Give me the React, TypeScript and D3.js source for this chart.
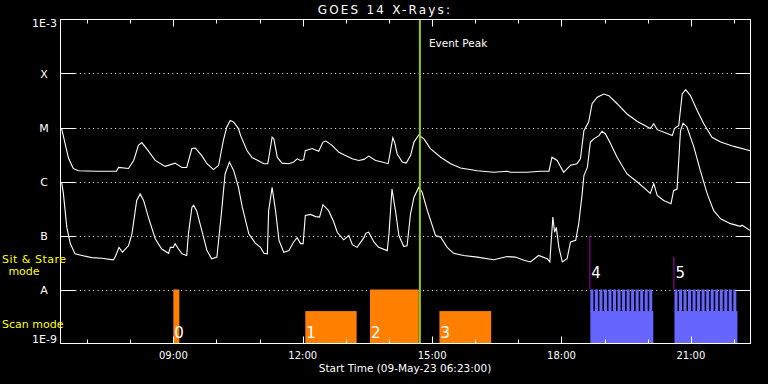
import React, { useEffect } from 'react';
import * as d3 from 'd3';

const W = 768;
const H = 384;

const startHour = 6 + 23 / 60;
const endHour = startHour + 16;
const hourTicks = [7, 8, 9, 10, 11, 12, 13, 14, 15, 16, 17, 18, 19, 20, 21, 22];
const majorTicks = [9, 12, 15, 18, 21];
const majorLabels = ['09:00', '12:00', '15:00', '18:00', '21:00'];
const levelValues = [-4, -5, -6, -7, -8];
const levelLabels = ['X', 'M', 'C', 'B', 'A'];
const eventPeak = 14.717;

// long channel (1-8 A): [clock hour, log10 flux]
const longChannel: [number, number][] = [
  [6.41, -5.02], [6.49, -5.3], [6.57, -5.57], [6.68, -5.76], [6.8, -5.8], [7.22, -5.81], [7.68, -5.81],
  [7.73, -5.74], [7.96, -5.76], [8.08, -5.61], [8.19, -5.33], [8.27, -5.28], [8.38, -5.39], [8.58, -5.61],
  [8.81, -5.72], [9.04, -5.66], [9.2, -5.74], [9.31, -5.74], [9.43, -5.39], [9.51, -5.38], [9.66, -5.52],
  [9.78, -5.67], [9.93, -5.78], [10.05, -5.7], [10.16, -5.24], [10.24, -4.99], [10.32, -4.87], [10.4, -4.9],
  [10.51, -5.02], [10.56, -5.15], [10.71, -5.43], [10.83, -5.56], [10.94, -5.6], [11.1, -5.67], [11.19, -5.67],
  [11.24, -5.43], [11.29, -5.18], [11.33, -5.21], [11.41, -5.55], [11.52, -5.66], [11.68, -5.67], [11.79, -5.64],
  [11.87, -5.58], [11.95, -5.61], [12.02, -5.6], [12.06, -5.43], [12.22, -5.39], [12.37, -5.44], [12.47, -5.27],
  [12.54, -5.25], [12.68, -5.33], [12.84, -5.46], [12.99, -5.52], [13.15, -5.58], [13.3, -5.61], [13.42, -5.59],
  [13.53, -5.53], [13.69, -5.61], [13.84, -5.64], [13.98, -5.67], [14.01, -5.55], [14.09, -5.19], [14.13, -5.27],
  [14.19, -5.49], [14.31, -5.64], [14.4, -5.66], [14.5, -5.52], [14.58, -5.27], [14.69, -5.14], [14.81, -5.21],
  [14.96, -5.39], [15.2, -5.55], [15.43, -5.67], [15.66, -5.75], [16.05, -5.8], [16.43, -5.83], [16.74, -5.81],
  [16.82, -5.83], [17.21, -5.83], [17.51, -5.81], [17.71, -5.81], [17.78, -5.55], [17.9, -5.61], [18.05, -5.83],
  [18.21, -5.7], [18.36, -5.67], [18.44, -5.58], [18.52, -5.06], [18.63, -4.9], [18.71, -4.56], [18.83, -4.44],
  [18.98, -4.38], [19.1, -4.41], [19.29, -4.56], [19.52, -4.75], [19.76, -4.89], [20.06, -5.02], [20.14, -4.93],
  [20.22, -5.04], [20.57, -5.15], [20.62, -5.02], [20.72, -4.96], [20.8, -4.38], [20.88, -4.3], [20.99, -4.41],
  [21.15, -4.69], [21.3, -4.93], [21.49, -5.18], [21.69, -5.27], [22.0, -5.35], [22.38, -5.43],
];

// short channel (0.5-4 A): [clock hour, log10 flux]
const shortChannel: [number, number][] = [
  [6.41, -6.01], [6.45, -6.22], [6.53, -6.85], [6.61, -7.15], [6.72, -7.34], [6.88, -7.37], [7.11, -7.41],
  [7.34, -7.42], [7.61, -7.45], [7.65, -7.4], [7.74, -7.22], [7.82, -7.31], [7.96, -7.19], [8.04, -6.97],
  [8.15, -6.35], [8.23, -6.23], [8.31, -6.35], [8.42, -6.66], [8.58, -7.06], [8.73, -7.25], [8.89, -7.33],
  [8.93, -7.22], [9.0, -7.22], [9.04, -7.15], [9.12, -7.25], [9.2, -7.34], [9.31, -7.37], [9.35, -6.97],
  [9.43, -6.48], [9.47, -6.44], [9.54, -6.54], [9.66, -6.91], [9.78, -7.28], [9.89, -7.43], [10.01, -7.4],
  [10.12, -6.54], [10.2, -5.86], [10.3, -5.64], [10.4, -5.8], [10.51, -6.11], [10.6, -6.48], [10.75, -6.97],
  [10.9, -7.14], [11.02, -7.22], [11.1, -7.33], [11.18, -7.34], [11.21, -6.54], [11.29, -6.11], [11.37, -6.54],
  [11.45, -7.09], [11.56, -7.31], [11.68, -7.28], [11.79, -7.12], [11.87, -7.04], [11.95, -7.15], [12.01, -7.15],
  [12.06, -6.63], [12.18, -6.61], [12.3, -6.65], [12.39, -6.66], [12.47, -6.43], [12.6, -6.54], [12.72, -6.75],
  [12.8, -6.94], [12.95, -7.08], [13.07, -7.0], [13.15, -7.17], [13.26, -7.22], [13.42, -7.04], [13.46, -6.96],
  [13.53, -6.94], [13.65, -7.12], [13.76, -7.22], [13.96, -7.28], [14.0, -6.97], [14.07, -6.14], [14.15, -6.54],
  [14.23, -7.0], [14.34, -7.2], [14.42, -7.19], [14.5, -6.6], [14.58, -6.29], [14.69, -6.11], [14.77, -6.2],
  [14.89, -6.54], [15.08, -7.0], [15.2, -7.03], [15.35, -7.22], [15.5, -7.33], [15.73, -7.37], [16.05, -7.4],
  [16.43, -7.45], [16.74, -7.39], [16.93, -7.4], [17.13, -7.46], [17.28, -7.49], [17.47, -7.37], [17.67, -7.43],
  [17.73, -7.49], [17.8, -6.66], [17.84, -6.94], [17.88, -6.85], [17.94, -7.22], [18.02, -7.49], [18.13, -7.43],
  [18.21, -7.12], [18.33, -7.09], [18.4, -6.78], [18.48, -6.23], [18.52, -5.89], [18.6, -5.74], [18.67, -5.27],
  [18.75, -5.21], [18.87, -5.15], [18.94, -5.07], [19.02, -5.12], [19.14, -5.3], [19.29, -5.55], [19.52, -5.86],
  [19.76, -6.01], [20.06, -6.22], [20.14, -6.04], [20.22, -6.26], [20.37, -6.35], [20.54, -6.41], [20.6, -6.17],
  [20.68, -6.14], [20.76, -5.06], [20.82, -4.92], [20.91, -4.99], [21.07, -5.36], [21.22, -5.8], [21.38, -6.23],
  [21.53, -6.54], [21.69, -6.69], [21.92, -6.78], [22.15, -6.83], [22.19, -6.81], [22.38, -6.91],
];

// observation blocks
const stareTop = -8;
const scanTop = -8.4;
const orangeStarts = [9.0, 12.06, 13.56, 15.17];
const orangeEnds = [9.14, 13.25, 14.69, 16.37];
const orangeModes = ['stare', 'scan', 'stare', 'scan'];
const orangeLabels = ['0', '1', '2', '3'];

const blueStarts = [18.67, 20.62];
const blueEnds = [20.13, 22.08];
const blueLabels = ['4', '5'];
const blueMarkerTop = [-7.0, -7.39];
const spikeWidth = 0.07;
const blueSpikes4 = [18.67, 18.775, 18.88, 18.985, 19.09, 19.195, 19.3, 19.405, 19.51, 19.615, 19.72, 19.825, 19.93, 20.035];
const blueSpikes5 = [20.62, 20.725, 20.83, 20.935, 21.04, 21.145, 21.25, 21.355, 21.46, 21.565, 21.67, 21.775, 21.88, 21.985];

const FONT = 'DejaVu Sans, sans-serif';

export default function App() {
  useEffect(() => {
    document.body.style.margin = '0';
    document.body.style.background = '#000';
  }, []);

  const left = 60.5, right = 750.5, top = 19.5, bottom = 343.5;
  const x = d3.scaleLinear().domain([startHour, endHour]).range([left, right]);
  const y = d3.scaleLog().domain([1e-9, 1e-3]).range([bottom, top]);
  const yl = (v: number) => y(Math.pow(10, v));

  const line = d3
    .line<[number, number]>()
    .x((d) => x(d[0]))
    .y((d) => yl(d[1]));

  const orange = '#ff8000';
  const blue = '#6666ff';

  return (
    <svg width={W} height={H} style={{ position: 'absolute', left: 0, top: 0, background: '#000' }} fontFamily={FONT}>
      <rect x={0} y={0} width={W} height={H} fill="#000" />

      {/* gridlines */}
      {levelValues.map((v) => (
        <line key={'g' + v} x1={left + 15} x2={right - 15} y1={Math.round(yl(v)) + 0.5} y2={Math.round(yl(v)) + 0.5}
          stroke="#fff" strokeWidth={1} strokeDasharray="1,3.4" />
      ))}

      {/* orange blocks */}
      {orangeStarts.map((s, i) => (
        <rect key={'o' + i} x={x(s)} y={yl(orangeModes[i] === 'stare' ? stareTop : scanTop)}
          width={x(orangeEnds[i]) - x(s)} height={bottom - yl(orangeModes[i] === 'stare' ? stareTop : scanTop)} fill={orange} />
      ))}

      {/* blue blocks */}
      {blueStarts.map((s, i) => (
        <rect key={'b' + i} x={x(s)} y={yl(scanTop)} width={x(blueEnds[i]) - x(s)} height={bottom - yl(scanTop)} fill={blue} />
      ))}
      {[...blueSpikes4, ...blueSpikes5].map((s, i) => (
        <rect key={'s' + i} x={x(s)} y={yl(stareTop)} width={x(s + spikeWidth) - x(s)} height={yl(scanTop) - yl(stareTop) + 1} fill={blue} />
      ))}
      {blueStarts.map((s, i) => (
        <line key={'m' + i} x1={x(s) - 0.5} x2={x(s) - 0.5} y1={yl(blueMarkerTop[i])} y2={yl(stareTop)} stroke="#b000b0" strokeWidth={1} />
      ))}

      {/* block labels */}
      {orangeStarts.map((s, i) => (
        <text key={'ol' + i} x={x(s) + 1} y={338} fill="#fff" fontSize={15}>{orangeLabels[i]}</text>
      ))}
      {blueStarts.map((s, i) => (
        <text key={'bl' + i} x={x(s) + 1} y={278} fill="#fff" fontSize={15}>{blueLabels[i]}</text>
      ))}

      {/* curves */}
      <path d={line(longChannel) || ''} fill="none" stroke="#fff" strokeWidth={1.1} />
      <path d={line(shortChannel) || ''} fill="none" stroke="#fff" strokeWidth={1.1} />

      {/* event peak */}
      <line x1={x(eventPeak)} x2={x(eventPeak)} y1={top} y2={bottom} stroke="#99cc00" strokeWidth={2} />
      <text x={x(eventPeak) + 9} y={47} fill="#fff" fontSize={10.5}>Event Peak</text>

      {/* frame */}
      <rect x={left} y={top} width={right - left} height={bottom - top} fill="none" stroke="#fff" strokeWidth={1} />

      {/* y ticks */}
      {levelValues.map((v) => (
        <g key={'yt' + v}>
          <line x1={left} x2={left + 15} y1={Math.round(yl(v)) + 0.5} y2={Math.round(yl(v)) + 0.5} stroke="#fff" />
          <line x1={right - 15} x2={right} y1={Math.round(yl(v)) + 0.5} y2={Math.round(yl(v)) + 0.5} stroke="#fff" />
        </g>
      ))}
      {levelValues.map((v, i) => (
        <text key={'yl' + v} x={44} y={yl(v) + 4} fill="#fff" fontSize={11} textAnchor="middle">{levelLabels[i]}</text>
      ))}
      <text x={57} y={27} fill="#fff" fontSize={11} textAnchor="end">1E-3</text>
      <text x={57} y={343} fill="#fff" fontSize={11} textAnchor="end">1E-9</text>

      {/* x ticks */}
      {hourTicks.map((h) => {
        const major = majorTicks.includes(h);
        const len = major ? 7 : 4;
        const xx = Math.round(x(h)) + 0.5;
        return (
          <g key={'xt' + h}>
            <line x1={xx} x2={xx} y1={top} y2={top + len} stroke="#fff" />
            <line x1={xx} x2={xx} y1={bottom} y2={bottom - len} stroke="#fff" />
          </g>
        );
      })}
      {majorTicks.map((h, i) => (
        <text key={'xl' + h} x={x(h)} y={359} fill="#fff" fontSize={10} textAnchor="middle">{majorLabels[i]}</text>
      ))}
      <text x={405} y={372} fill="#fff" fontSize={10.5} textAnchor="middle">Start Time (09-May-23 06:23:00)</text>

      {/* title */}
      <text x={385} y={14} fill="#fff" fontSize={12} textAnchor="middle" letterSpacing={2.2}>GOES 14 X-Rays:</text>

      {/* mode labels */}
      <text x={2} y={263} fill="#ffff00" fontSize={11} letterSpacing={0.5}>Sit &amp; Stare</text>
      <text x={24} y={275} fill="#ffff00" fontSize={11} textAnchor="middle">mode</text>
      <text x={2} y={328} fill="#ffff00" fontSize={11}>Scan mode</text>
    </svg>
  );
}
